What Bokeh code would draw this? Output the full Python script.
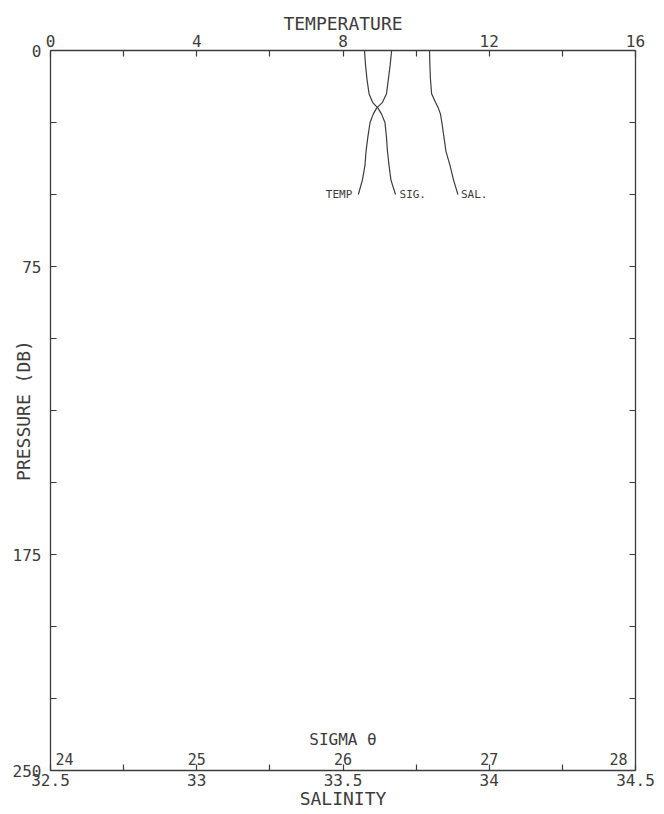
from bokeh.plotting import figure
from bokeh.models import (Range1d, LinearAxis, FixedTicker, CustomJSTickFormatter,
                          ColumnDataSource)
from bokeh.core.properties import value
from bokeh.embed import file_html
from bokeh.resources import INLINE

# ---- data ----
pressure = [0, 5, 10, 15, 18, 20, 22, 25, 30, 35, 40, 45, 50]
temperature = [9.33, 9.29, 9.24, 9.19, 9.08, 8.92, 8.83, 8.74, 8.68, 8.63, 8.60, 8.53, 8.42]
sigma_theta = [26.147, 26.154, 26.164, 26.178, 26.202, 26.239, 26.263, 26.287, 26.297,
               26.304, 26.315, 26.328, 26.359]
salinity = [33.796, 33.797, 33.799, 33.803, 33.816, 33.826, 33.833, 33.838, 33.845,
            33.852, 33.866, 33.878, 33.893]

pressure_labeled = [0, 75, 175, 250]
pressure_minor = [25, 50, 100, 125, 150, 200, 225]
pressure_all = [0, 25, 50, 75, 100, 125, 150, 175, 200, 225, 250]
temp_major = [0, 4, 8, 12, 16]
temp_minor = [2, 6, 10, 14]
sal_major = [32.5, 33, 33.5, 34, 34.5]
sal_minor = [32.75, 33.25, 33.75, 34.25]
sigma_ticks = [24, 25, 26, 27, 28]
sigma_text = ["24", "25", "26", "27", "28"]

C = "#3c3c3c"
FONT = "DejaVu Sans Mono"

p = figure(frame_width=585, frame_height=720,
           x_range=Range1d(32.5, 34.5), y_range=Range1d(250, 0),
           x_axis_location=None, y_axis_location=None,
           min_border_left=50, min_border_top=50, min_border_right=20, min_border_bottom=43,
           output_backend="svg", toolbar_location=None)
p.extra_x_ranges = {"temp": Range1d(0, 16), "sigma": Range1d(24, 28)}
p.grid.visible = False
p.outline_line_color = None
p.background_fill_color = "white"
p.border_fill_color = "white"

fmt = CustomJSTickFormatter(code="return String(tick)")


def style(ax, standoff, label=None, label_standoff=0):
    ax.axis_line_color = C
    ax.axis_line_width = 1.3
    ax.major_tick_in = 6
    ax.major_tick_out = 0
    ax.minor_tick_in = 6
    ax.minor_tick_out = 0
    ax.major_tick_line_color = C
    ax.minor_tick_line_color = C
    ax.major_tick_line_width = 1.2
    ax.minor_tick_line_width = 1.2
    ax.major_label_text_font = FONT
    ax.major_label_text_font_size = "16px"
    ax.major_label_text_color = C
    ax.major_label_standoff = standoff
    if label:
        ax.axis_label = label
        ax.axis_label_text_font = FONT
        ax.axis_label_text_font_size = "18px"
        ax.axis_label_text_font_style = "normal"
        ax.axis_label_text_color = C
        ax.axis_label_standoff = label_standoff


left = LinearAxis(ticker=FixedTicker(ticks=pressure_labeled, minor_ticks=pressure_minor),
                  formatter=fmt)
style(left, 9, "PRESSURE (DB)", -24)
p.add_layout(left, "left")

right = LinearAxis(ticker=FixedTicker(ticks=pressure_all),
                   formatter=CustomJSTickFormatter(code="return ''"))
style(right, 0)
p.add_layout(right, "right")

top = LinearAxis(x_range_name="temp",
                 ticker=FixedTicker(ticks=temp_major, minor_ticks=temp_minor),
                 formatter=fmt)
style(top, 4, "TEMPERATURE", -2)
p.add_layout(top, "above")

bottom = LinearAxis(ticker=FixedTicker(ticks=sal_major, minor_ticks=sal_minor),
                    formatter=fmt)
style(bottom, 3, "SALINITY", -1)
p.add_layout(bottom, "below")

# profiles
p.line(temperature, pressure, x_range_name="temp", line_color=C, line_width=1.2)
p.line(sigma_theta, pressure, x_range_name="sigma", line_color=C, line_width=1.2)
p.line(salinity, pressure, line_color=C, line_width=1.2)

lbl_kw = dict(text_font=value(FONT), text_font_size="11px", text_color=C,
              text_baseline="middle")
p.text(x=[temperature[-1]], y=[pressure[-1]], text=["TEMP"], x_range_name="temp",
       text_align="right", x_offset=-6, **lbl_kw)
p.text(x=[sigma_theta[-1]], y=[pressure[-1]], text=["SIG."], x_range_name="sigma",
       text_align="left", x_offset=4, **lbl_kw)
p.text(x=[salinity[-1]], y=[pressure[-1]], text=["SAL."],
       text_align="left", x_offset=3, **lbl_kw)

# sigma-theta scale drawn inside the frame
src = ColumnDataSource(dict(x=sigma_ticks, y=[250] * len(sigma_ticks), text=sigma_text,
                            align=["left", "center", "center", "center", "right"],
                            xoff=[5, 0, 0, 0, -8]))
p.text(x="x", y="y", text="text", source=src, x_range_name="sigma",
       text_align="align", x_offset="xoff", y_offset=-6, text_baseline="bottom",
       text_font=value(FONT), text_font_size="15px", text_color=C)
p.text(x=[26], y=[250], text=["SIGMA θ"], x_range_name="sigma",
       text_align="center", y_offset=-22, text_baseline="bottom",
       text_font=value(FONT), text_font_size="16px", text_color=C)

open("out.html", "w").write(file_html(p, INLINE))
